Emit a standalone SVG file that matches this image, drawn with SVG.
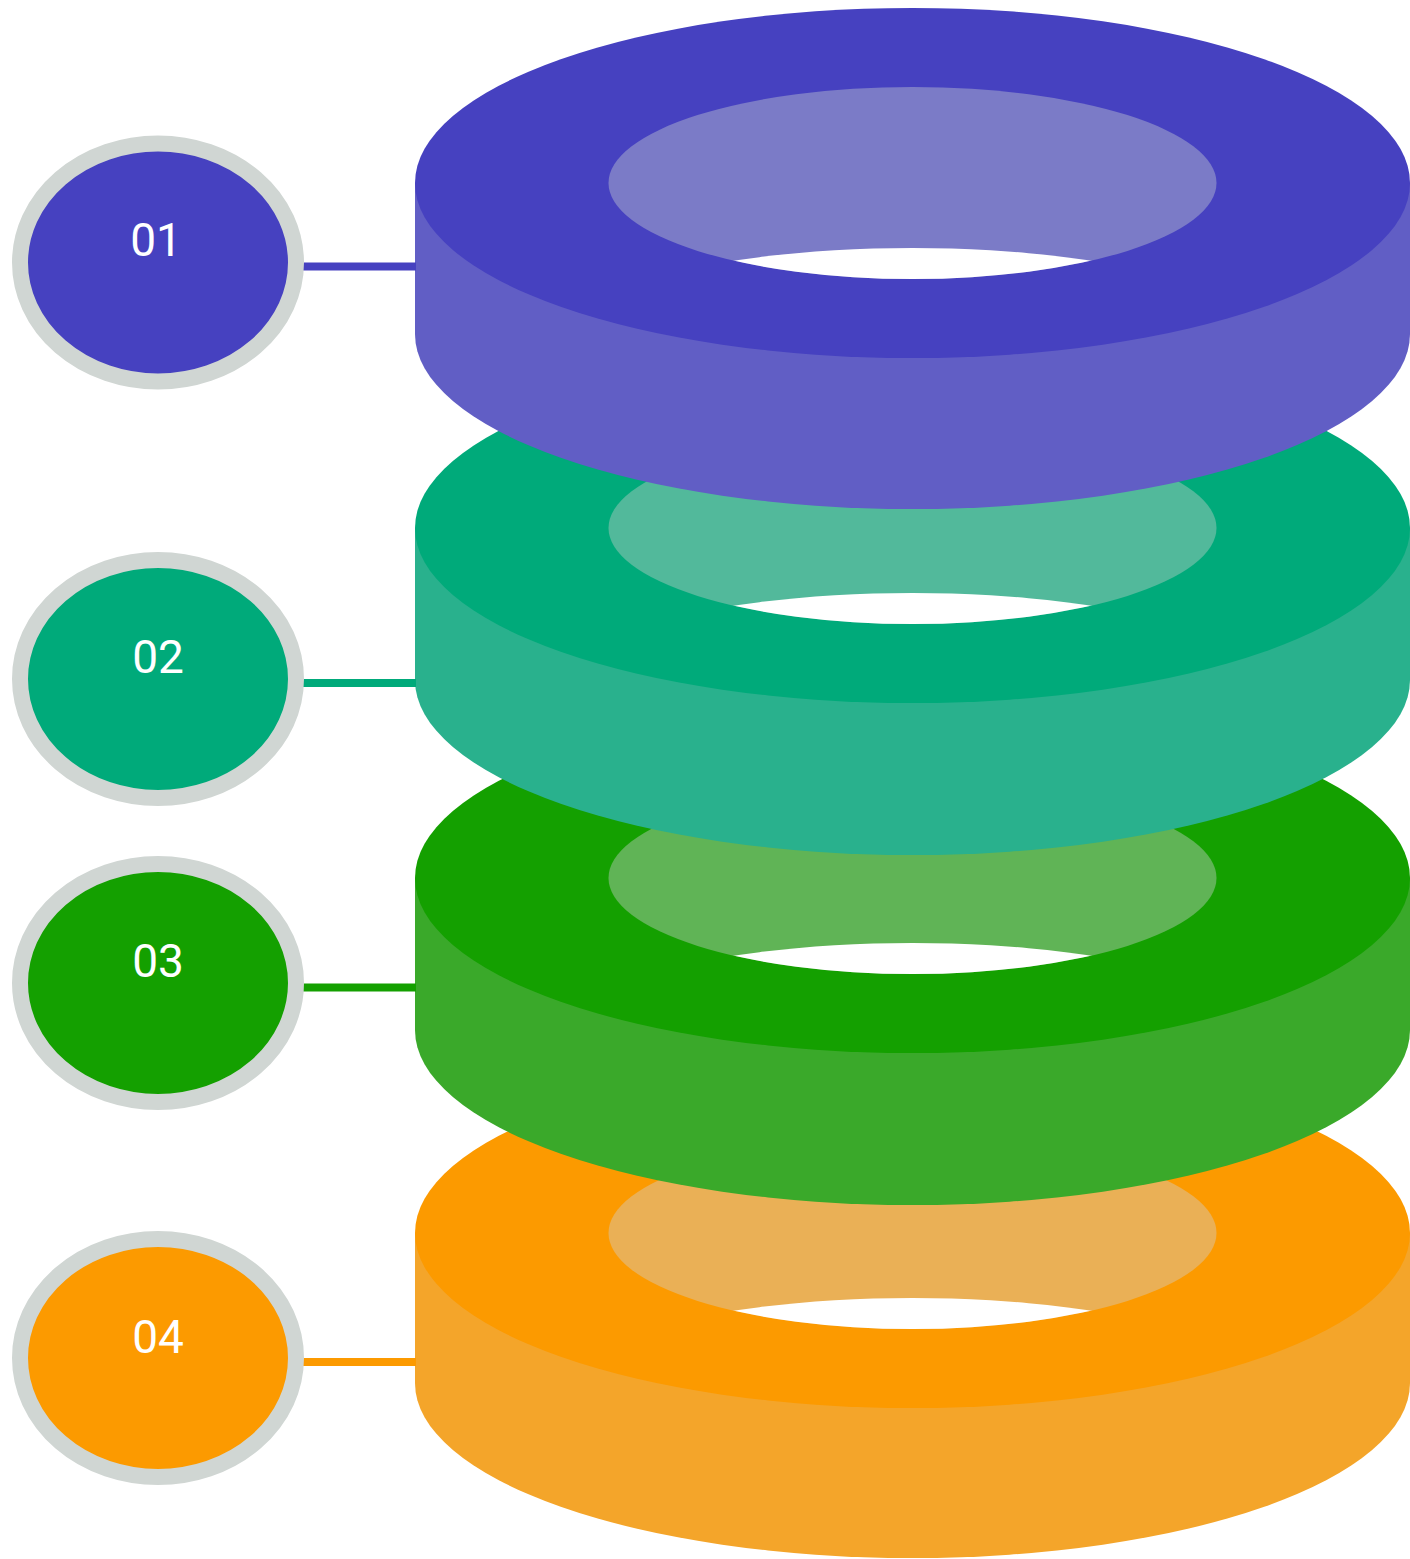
<svg xmlns="http://www.w3.org/2000/svg" width="1410" height="1559" viewBox="0 0 1410 1559">
  <style>
    .badge { stroke: #D0D6D3; stroke-width: 16; }
    .num { font-family: Roboto, "Liberation Sans", sans-serif; font-size: 46px; fill: #FFFFFF; text-anchor: middle; }
    .link { stroke-width: 8; fill: none; }
  </style>
  <defs>
    <!-- hole openings of each ring, used to clip the see-through bottom -->
    <clipPath id="hole1"><ellipse cx="912.5" cy="183" rx="304" ry="96"/></clipPath>
    <clipPath id="hole2"><ellipse cx="912.5" cy="528" rx="304" ry="96"/></clipPath>
    <clipPath id="hole3"><ellipse cx="912.5" cy="878" rx="304" ry="96"/></clipPath>
    <clipPath id="hole4"><ellipse cx="912.5" cy="1233" rx="304" ry="96"/></clipPath>
  </defs>

  <!-- ring 4 (bottom of the stack) -->
  <g id="ring-4">
    <ellipse cx="912.5" cy="1383" rx="497.5" ry="175" fill="#F4A52A"/>
    <rect x="415" y="1233" width="995" height="150" fill="#F4A52A"/>
    <ellipse cx="912.5" cy="1233" rx="497.5" ry="175" fill="#FC9A00"/>
    <ellipse cx="912.5" cy="1233" rx="304" ry="96" fill="#EAB056"/>
    <ellipse cx="912.5" cy="1418" rx="400" ry="120" fill="#FFFFFF" clip-path="url(#hole4)"/>
  </g>

  <!-- ring 3 -->
  <g id="ring-3">
    <ellipse cx="912.5" cy="1030" rx="497.5" ry="175" fill="#3AA92A"/>
    <rect x="415" y="878" width="995" height="152" fill="#3AA92A"/>
    <ellipse cx="912.5" cy="878" rx="497.5" ry="175" fill="#14A000"/>
    <ellipse cx="912.5" cy="878" rx="304" ry="96" fill="#60B456"/>
    <ellipse cx="912.5" cy="1063" rx="400" ry="120" fill="#FFFFFF" clip-path="url(#hole3)"/>
  </g>

  <!-- ring 2 -->
  <g id="ring-2">
    <ellipse cx="912.5" cy="680" rx="497.5" ry="175" fill="#29B18D"/>
    <rect x="415" y="528" width="995" height="152" fill="#29B18D"/>
    <ellipse cx="912.5" cy="528" rx="497.5" ry="175" fill="#00AA7A"/>
    <ellipse cx="912.5" cy="528" rx="304" ry="96" fill="#52B99B"/>
    <ellipse cx="912.5" cy="713" rx="400" ry="120" fill="#FFFFFF" clip-path="url(#hole2)"/>
  </g>

  <!-- ring 1 (top of the stack) -->
  <g id="ring-1">
    <ellipse cx="912.5" cy="334" rx="497.5" ry="175" fill="#615EC5"/>
    <rect x="415" y="183" width="995" height="151" fill="#615EC5"/>
    <ellipse cx="912.5" cy="183" rx="497.5" ry="175" fill="#4641C0"/>
    <ellipse cx="912.5" cy="183" rx="304" ry="96" fill="#7B7BC7"/>
    <ellipse cx="912.5" cy="368" rx="400" ry="120" fill="#FFFFFF" clip-path="url(#hole1)"/>
  </g>

  <!-- connectors from badges to rings -->
  <g id="connectors">
    <line class="link" x1="296" y1="266.5" x2="416" y2="266.5" stroke="#4641C0"/>
    <line class="link" x1="296" y1="683" x2="416" y2="683" stroke="#00AA7A"/>
    <line class="link" x1="296" y1="987.5" x2="416" y2="987.5" stroke="#14A000"/>
    <line class="link" x1="296" y1="1362" x2="416" y2="1362" stroke="#FC9A00"/>
  </g>

  <!-- numbered badges -->
  <g id="badge-01">
    <ellipse class="badge" cx="158" cy="262.5" rx="138" ry="119" fill="#4641C0"/>
    <text class="num" x="156" y="256">01</text>
  </g>
  <g id="badge-02">
    <ellipse class="badge" cx="158" cy="679" rx="138" ry="119" fill="#00AA7A"/>
    <text class="num" x="158" y="673">02</text>
  </g>
  <g id="badge-03">
    <ellipse class="badge" cx="158" cy="983" rx="138" ry="119" fill="#14A000"/>
    <text class="num" x="158" y="977">03</text>
  </g>
  <g id="badge-04">
    <ellipse class="badge" cx="158" cy="1358" rx="138" ry="119" fill="#FC9A00"/>
    <text class="num" x="158" y="1353">04</text>
  </g>
</svg>
